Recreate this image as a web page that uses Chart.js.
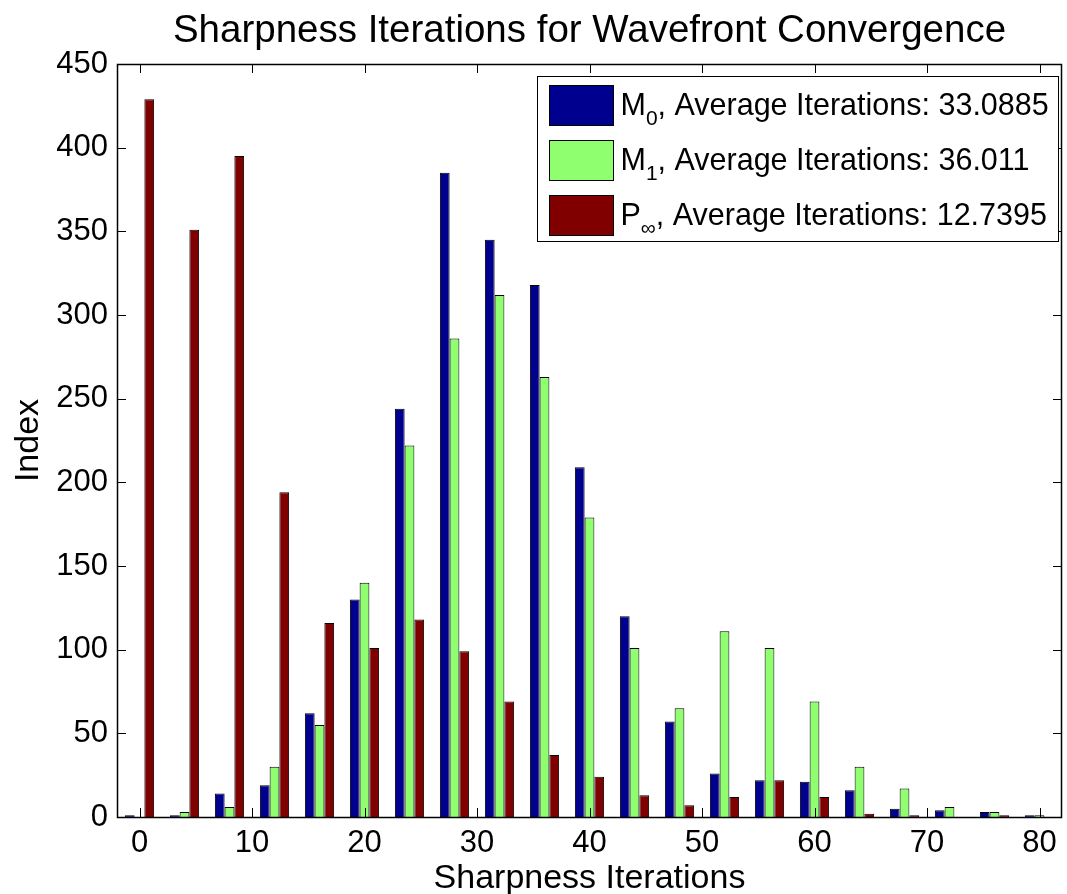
<!DOCTYPE html>
<html>
<head>
<meta charset="utf-8">
<script src="https://cdn.jsdelivr.net/npm/chart.js@4"></script>
<style>
  html, body { margin: 0; padding: 0; background: #fff; }
  #wrap { width: 1067px; height: 894px; }
</style>
</head>
<body>
<div id="wrap"><canvas id="c" width="1067" height="894"></canvas></div>
<script>
// Histogram bin centres (sharpness iterations)
const binCenters = [0, 4, 8, 12, 16, 20, 24, 28, 32, 36, 40, 44, 48, 52, 56, 60, 64, 68, 72, 76, 80];

// Counts per bin for each method
const m0Counts   = [1, 1, 14, 19, 62, 130, 244, 385, 345, 318, 209, 120, 57, 26, 22, 21, 16, 5, 4, 3, 1];
const m1Counts   = [0, 3, 6, 30, 55, 140, 222, 286, 312, 263, 179, 101, 65, 111, 101, 69, 30, 17, 6, 3, 1];
const pInfCounts = [429, 351, 395, 194, 116, 101, 118, 99, 69, 37, 24, 13, 7, 12, 22, 12, 2, 1, 0, 1, 0];

// Legend text pieces: symbol, subscript, average iterations
const seriesBase = ['M', 'M', 'P'];
const seriesSub = ['0', '1', '\u221E'];
const avgIterations = ['33.0885', '36.011', '12.7395'];

// Titles
const chartTitle = 'Sharpness Iterations for Wavefront Convergence';
const xTitle = 'Sharpness Iterations';
const yTitle = 'Index';

// Axis ticks
const xTickValues = [0, 10, 20, 30, 40, 50, 60, 70, 80];
const yTickValues = [0, 50, 100, 150, 200, 250, 300, 350, 400, 450];

const seriesColors = ['rgb(0,0,143)', 'rgb(143,255,112)', 'rgb(128,0,0)'];
const FONT = '"Liberation Sans", Arial, Helvetica, sans-serif';

function toPoints(counts) {
  return binCenters.map((x, i) => ({ x: x, y: counts[i] }));
}

// Title centred over the plotting area
const centredTitlePlugin = {
  id: 'centredTitle',
  afterDraw(chart) {
    const { ctx, chartArea: a } = chart;
    ctx.save();
    ctx.fillStyle = '#000';
    ctx.font = '38.5px ' + FONT;
    ctx.textAlign = 'center';
    ctx.textBaseline = 'alphabetic';
    ctx.fillText(chartTitle, (a.left + a.right) / 2, a.top - 22);
    ctx.restore();
  }
};

// Draws the axes box with inward-pointing tick marks on all four sides
const axesBoxPlugin = {
  id: 'axesBox',
  afterDatasetsDraw(chart) {
    const { ctx, chartArea: a } = chart;
    const xs = chart.scales.x, ys = chart.scales.y;
    const len = 9;
    ctx.save();
    ctx.strokeStyle = '#000';
    ctx.lineWidth = 1;
    ctx.beginPath();
    xTickValues.forEach(v => {
      const px = Math.round(xs.getPixelForValue(v)) + 0.5;
      ctx.moveTo(px, a.bottom); ctx.lineTo(px, a.bottom - len);
      ctx.moveTo(px, a.top); ctx.lineTo(px, a.top + len);
    });
    yTickValues.forEach(v => {
      const py = Math.round(ys.getPixelForValue(v)) + 0.5;
      ctx.moveTo(a.left, py); ctx.lineTo(a.left + len, py);
      ctx.moveTo(a.right, py); ctx.lineTo(a.right - len, py);
    });
    ctx.stroke();
    ctx.lineWidth = 1.5;
    ctx.strokeRect(Math.round(a.left) + 0.5, Math.round(a.top) + 0.5,
                   Math.round(a.right - a.left) - 1, Math.round(a.bottom - a.top));
    ctx.restore();
  }
};

// Legend box in the upper right corner, with subscripted series symbols
const subLegendPlugin = {
  id: 'subLegend',
  afterDraw(chart) {
    const { ctx, chartArea: a } = chart;
    const boxW = 521, boxH = 165;
    const left = Math.round(a.right - 4 - boxW) + 0.5;
    const top = Math.round(a.top + 12) + 0.5;
    ctx.save();
    ctx.fillStyle = '#fff';
    ctx.fillRect(left, top, boxW, boxH);
    ctx.strokeStyle = '#000';
    ctx.lineWidth = 1;
    ctx.strokeRect(left, top, boxW, boxH);
    chart.data.datasets.forEach((ds, i) => {
      const sTop = top + 9 + i * 55;
      const sLeft = left + 12;
      ctx.fillStyle = ds.backgroundColor;
      ctx.fillRect(sLeft, sTop, 64, 40);
      ctx.strokeStyle = '#000';
      ctx.strokeRect(sLeft, sTop, 64, 40);
      const baseY = sTop + 20 + 9;
      let x = sLeft + 71;
      ctx.fillStyle = '#000';
      ctx.textBaseline = 'alphabetic';
      ctx.textAlign = 'left';
      ctx.font = '30.5px ' + FONT;
      ctx.fillText(seriesBase[i], x, baseY);
      x += ctx.measureText(seriesBase[i]).width;
      ctx.font = '21px ' + FONT;
      ctx.fillText(seriesSub[i], x, baseY + 10);
      x += ctx.measureText(seriesSub[i]).width;
      ctx.font = '30.5px ' + FONT;
      ctx.fillText(', Average Iterations: ' + avgIterations[i], x, baseY);
    });
    ctx.restore();
  }
};

new Chart(document.getElementById('c'), {
  type: 'bar',
  data: {
    datasets: [
      { label: 'M0', data: toPoints(m0Counts), backgroundColor: seriesColors[0] },
      { label: 'M1', data: toPoints(m1Counts), backgroundColor: seriesColors[1] },
      { label: 'P\u221E', data: toPoints(pInfCounts), backgroundColor: seriesColors[2] }
    ]
  },
  options: {
    responsive: false,
    devicePixelRatio: 1,
    animation: false,
    layout: { padding: { left: 0, right: 5, top: 64, bottom: 0 } },
    datasets: {
      bar: {
        borderColor: '#000',
        borderWidth: 1,
        borderSkipped: 'start',
        categoryPercentage: 0.65,
        barPercentage: 1.0
      }
    },
    plugins: {
      legend: { display: false },
      tooltip: { enabled: false },
      title: { display: false }
    },
    scales: {
      x: {
        type: 'linear',
        min: -2,
        max: 82,
        offset: false,
        grid: { display: false, drawTicks: false },
        border: { display: false },
        afterBuildTicks(scale) { scale.ticks = xTickValues.map(v => ({ value: v })); },
        afterFit(scale) { scale.height = 77; },
        ticks: { color: '#000', padding: 8, maxRotation: 0, autoSkip: false,
                 font: { family: FONT, size: 31 } },
        title: { display: true, text: xTitle, color: '#000',
                 font: { family: FONT, size: 34 }, padding: { top: 0, bottom: -5 } }
      },
      y: {
        min: 0,
        max: 450,
        grid: { display: false, drawTicks: false },
        border: { display: false },
        afterBuildTicks(scale) { scale.ticks = yTickValues.map(v => ({ value: v })); },
        afterFit(scale) { scale.width = 117; },
        ticks: { color: '#000', padding: 9, font: { family: FONT, size: 31 } },
        title: { display: true, text: yTitle, color: '#000',
                 font: { family: FONT, size: 34 }, padding: { top: 8, bottom: 0 } }
      }
    }
  },
  plugins: [axesBoxPlugin, subLegendPlugin, centredTitlePlugin]
});
</script>
</body>
</html>
